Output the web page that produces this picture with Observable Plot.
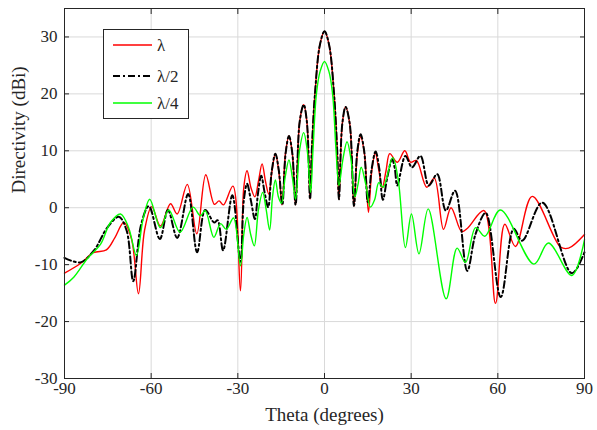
<!DOCTYPE html>
<html><head><meta charset="utf-8">
<script src="https://cdn.jsdelivr.net/npm/d3@7"></script>
<script src="https://cdn.jsdelivr.net/npm/@observablehq/plot@0.6"></script>
<style>body{margin:0;background:#fff}#chart{width:597px;height:430px}#chart svg text{font-family:'Liberation Serif','Times New Roman',serif !important}</style>
</head><body><div id="chart"></div>
<script>
const xTicks = [-90, -60, -30, 0, 30, 60, 90];
const yTicks = [-30, -20, -10, 0, 10, 20, 30];
const seriesNames = ["λ", "λ/2", "λ/4"];

const thetaLambda = [-90,-84.5,-80,-75.5,-72.5,-69.5,-66.8,-64.4,-62.3,-59.8,-56.8,-53.3,-51,-47.5,-44.2,-41.1,-38.1,-36.5,-35,-31.7,-29.1,-27.95,-26.8,-25.45,-24.1,-22.85,-21.6,-20.45,-19.3,-18.15,-17,-15.85,-14.7,-13.5,-12.3,-11.15,-10,-8.6,-7.2,-6.1,-5,-4.4,-3.3,-1.6,0,1.6,3.3,4.4,5,6.15,7.3,8.75,10.2,11.35,12.5,13.85,15.2,16.4,17.6,18.8,20,21.3,22.6,25.2,27.8,29.8,31.8,35.4,38,41.2,43.8,47.5,49.5,55.2,59.2,62.4,66.1,71.9,81.7,84.5,90];
const dirLambda   = [-11.5,-9.8,-7.9,-7.4,-5.2,-2.6,-5.5,-15.1,-4,0.2,-3.2,0.7,-1.1,4.1,-4.6,5.8,0.6,1.2,0.5,3.8,-14.6,3.5,6.5,3.5,1.9,4.7,7.7,4.7,2.4,6.5,9.5,6.5,0.5,9.6,12.6,9.6,0.5,15.1,18.1,15.1,1.5,10,20,28.6,31,28.6,20,10,1.5,14.7,17.7,14.7,0.3,9.4,12.4,9.4,-0.8,6.6,9.6,6.6,3.5,6.5,9.5,8.0,10,8.0,8.3,3.6,5.2,-3.8,0,-4.2,-3.6,-0.5,-16.8,-2.9,-6.8,2.0,-6.9,-7.1,-4.7];

const thetaHalf = [-90,-84.5,-79.8,-75.2,-71.2,-68.5,-66.2,-63.5,-60.8,-57,-54.2,-51,-47.2,-44.1,-41.3,-38.2,-37,-35.1,-31.9,-29.1,-27.95,-26.8,-25.45,-24.1,-23,-21.9,-20.7,-19.5,-18.25,-17,-15.8,-14.6,-13.45,-12.3,-11.15,-10,-8.6,-7.2,-6.1,-5,-4.4,-3.3,-1.6,0,1.6,3.3,4.4,5,6.15,7.3,8.75,10.2,11.35,12.5,13.75,15,16.35,17.7,18.95,20.2,21.8,23.4,24.3,25.2,28,30.3,33.2,36.1,39,42,45.2,49.4,52.3,55.8,61,65.5,68.4,75.4,85.6,90];
const dirHalf   = [-8.8,-9.6,-7.5,-3.5,-1.6,-4,-12.9,-3,0.3,-5.5,-0.4,-5.3,2.4,-7.8,-0.4,-2.6,-2.2,-7.5,2.2,-9.5,1.2,4.2,1.2,-2.0,2.6,5.6,2.6,0.1,6.5,9.5,6.5,0.5,9.6,12.6,9.6,0.5,15.1,18.1,15.1,1.5,10,20,28.6,31,28.6,20,10,1.5,14.7,17.7,14.7,0.3,9.9,12.9,9.9,1.0,6.9,9.9,6.9,1.4,5.5,8.5,7,3.9,9.1,7.1,9.1,3.9,5.9,-0.5,3.0,-11.1,-4.6,-0.9,-15.7,-3.7,-5.8,0.9,-11.5,-7.8];

const thetaQuarter = [-90,-86.8,-82.2,-77.5,-74.1,-70.6,-67.8,-65.1,-62.8,-60.5,-56.8,-53.9,-50,-45.5,-43,-41.3,-38.3,-36,-34,-31.5,-29.1,-27.95,-26.8,-25.55,-24.3,-22.85,-21.4,-20.2,-19,-18,-17,-15.95,-14.9,-13.6,-12.3,-11.15,-10,-8.6,-7.2,-6,-4.8,-4,-2.8,-1.5,0,1.5,2.8,4,5,6.4,7.8,9.15,10.5,11.6,12.7,14.3,15.9,17.35,18.8,20.3,23.6,25.5,28,30.1,32.7,35.9,42.1,45.9,48.8,52.3,55.5,60.9,72.5,77.5,85.6,90];
const dirQuarter   = [-13.6,-12.2,-9.0,-6.4,-2.6,-1.1,-3.5,-8.4,-2,1.5,-3.5,-0.4,-4.3,0.1,-1.4,-0.5,-5.2,-2.8,-3.8,-1.8,-10.2,-4.7,-1.7,-4.7,-6.7,-0.3,2.7,-0.3,-3.9,1.9,4.9,1.9,0.8,5.4,8.4,5.4,1.5,10.2,13.2,10.2,2.7,10,20,24,25.7,24,20,10,3.9,8.6,11.6,8.6,1.9,4.1,7.1,4.1,0.1,1.4,4.4,3.6,8.8,5,-7.0,-1.1,-8.1,-0.2,-16,-7.1,-9.6,-3.5,-5.0,-0.4,-9.9,-6.2,-11.9,-5.6];

const toRows = (th, d) => th.map((t, i) => ({theta: t, d: d[i]}));
const rowsLambda = toRows(thetaLambda, dirLambda);
const rowsHalf = toRows(thetaHalf, dirHalf);
const rowsQuarter = toRows(thetaQuarter, dirQuarter);

const styles = [
  {stroke: "#ff0000", strokeWidth: 1.4},
  {stroke: "#000000", strokeWidth: 2, strokeDasharray: "7,3,2,3"},
  {stroke: "#00ff00", strokeWidth: 1.4}
];
const fmt = d => String(d);
const serif = "'Liberation Serif', 'Times New Roman', serif";

const plot = Plot.plot({
  width: 597, height: 430,
  marginLeft: 64, marginRight: 13, marginTop: 8, marginBottom: 52,
  style: {fontFamily: serif, fontSize: "17px", color: "#262626", background: "#fff"},
  x: {domain: [-90, 90], ticks: xTicks},
  y: {domain: [-30, 35], ticks: yTicks},
  marks: [
    Plot.gridX({ticks: xTicks, stroke: "#d9d9d9", strokeOpacity: 1}),
    Plot.gridY({ticks: yTicks, stroke: "#d9d9d9", strokeOpacity: 1}),
    Plot.line(rowsLambda, {x: "theta", y: "d", curve: "catmull-rom", ...styles[0]}),
    Plot.line(rowsHalf, {x: "theta", y: "d", curve: "catmull-rom", ...styles[1]}),
    Plot.line(rowsQuarter, {x: "theta", y: "d", curve: "catmull-rom", ...styles[2]}),
    Plot.frame({stroke: "#262626"}),
    Plot.axisX({ticks: xTicks, anchor: "bottom", tickSize: -5, fill: "none", label: null}),
    Plot.axisX({ticks: xTicks, anchor: "top", tickSize: -5, fill: "none", label: null}),
    Plot.axisY({ticks: yTicks, anchor: "left", tickSize: -5, fill: "none", label: null}),
    Plot.axisY({ticks: yTicks, anchor: "right", tickSize: -5, fill: "none", label: null}),
    Plot.text(xTicks, {x: d => d, text: fmt, frameAnchor: "bottom", dy: 15, fontSize: 17, fontFamily: serif, fill: "#262626"}),
    Plot.text(yTicks, {y: d => d, text: fmt, frameAnchor: "left", dx: -7, textAnchor: "end", fontSize: 17, fontFamily: serif, fill: "#262626"}),
    Plot.text(["Theta (degrees)"], {text: d => d, frameAnchor: "bottom", dy: 42, fontSize: 19, fontFamily: serif, fill: "#262626"}),
    Plot.text(["Directivity (dBi)"], {text: d => d, frameAnchor: "left", dx: -46, rotate: -90, fontSize: 19, fontFamily: serif, fill: "#262626"})
  ]
});
document.getElementById("chart").appendChild(plot);

// legend inside the axes
const svg = d3.select(plot);
const lg = svg.append("g").attr("font-family", serif).attr("font-size", 17).attr("text-anchor", "start");
lg.append("rect").attr("x", 103.5).attr("y", 29.5).attr("width", 85).attr("height", 89)
  .attr("fill", "#fff").attr("stroke", "#262626").attr("stroke-width", 1);
const ys = [45, 76, 103];
seriesNames.forEach((name, i) => {
  const s = styles[i];
  lg.append("line").attr("x1", 113).attr("x2", 152).attr("y1", ys[i]).attr("y2", ys[i])
    .attr("stroke", s.stroke).attr("stroke-width", s.strokeWidth)
    .attr("stroke-dasharray", s.strokeDasharray || null);
  lg.append("text").attr("x", 157).attr("y", ys[i]).attr("dy", "0.35em").attr("fill", "#262626").attr("text-anchor", "start").text(name);
});
</script>
</body></html>
